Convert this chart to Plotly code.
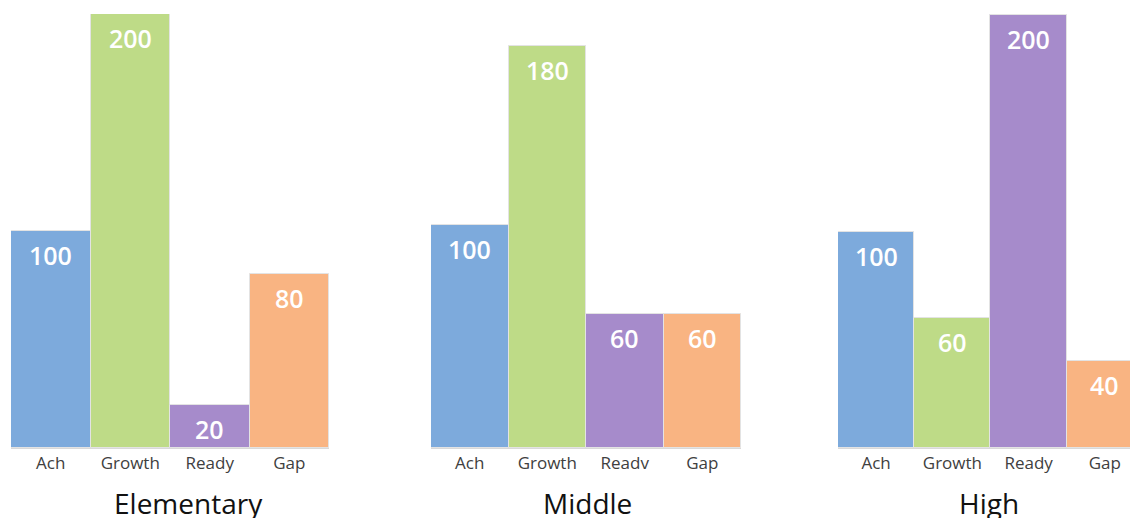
import plotly.graph_objects as go

# Score categories and per-level values
categories = ["Ach", "Growth", "Ready", "Gap"]
middle_categories = ["Ach", "Growth", "Readv", "Gap"]
levels = ["Elementary", "Middle", "High"]
elementary_values = [100, 200, 20, 80]
middle_values = [100, 180, 60, 60]
high_values = [100, 60, 200, 40]

bar_colors = ["#7DAADC", "#BEDB87", "#A68BCB", "#F9B482"]

W, H = 1130, 518
base_px = 448   # baseline (pixels from top)
top_px = 14     # top of plotting area

panels = [
    # (title, category labels, values, left px, right px, y max, x range max, title centre px)
    ("Elementary", categories, elementary_values, 11, 329, 200, 3.5, 188),
    ("Middle", middle_categories, middle_values, 431, 741, 194.3, 3.5, 587),
    ("High", categories, high_values, 838, 1130, 200.5, 3.33, 989),
]

fig = go.Figure()
annotations = []
y_dom = [(H - base_px) / H, (H - top_px) / H]

for i, (title, cats, vals, x0, x1, ymax, xmax, tcx) in enumerate(panels):
    n = "" if i == 0 else str(i + 1)
    xa, ya = "x" + n, "y" + n
    fig.add_trace(go.Bar(
        x=list(range(len(cats))), y=vals,
        marker=dict(color=bar_colors, line=dict(color="#E3E3E3", width=1)),
        width=1.0, xaxis=xa, yaxis=ya, showlegend=False, hoverinfo="skip",
    ))
    fig.layout["xaxis" + n] = dict(
        domain=[x0 / W, x1 / W], range=[-0.5, xmax], anchor=ya,
        tickmode="array", tickvals=list(range(len(cats))), ticktext=cats,
        showgrid=False, zeroline=False, showline=True, linecolor="#D9D9D9",
        linewidth=1, ticks="", ticklen=0,
        tickfont=dict(family="Open Sans", size=17, color="#404040"),
        fixedrange=True,
    )
    fig.layout["yaxis" + n] = dict(
        domain=y_dom, range=[0, ymax], anchor=xa, visible=False,
        showgrid=False, zeroline=False, fixedrange=True,
    )
    for j, v in enumerate(vals):
        annotations.append(dict(
            x=j, y=v, xref=xa, yref=ya, text=str(v), showarrow=False,
            yanchor="middle", yshift=-24,
            font=dict(family="Open Sans", size=25, color="white", weight=600),
        ))
    annotations.append(dict(
        x=tcx / W, y=(H - 503) / H,
        xref="paper", yref="paper", text=title, showarrow=False,
        yanchor="middle", xanchor="center",
        font=dict(family="Open Sans", size=28, color="#111111"),
    ))

fig.update_layout(
    width=W, height=H, margin=dict(l=0, r=0, t=0, b=0),
    paper_bgcolor="white", plot_bgcolor="white",
    annotations=annotations, bargap=0,
)

fig.write_html("out.html")
